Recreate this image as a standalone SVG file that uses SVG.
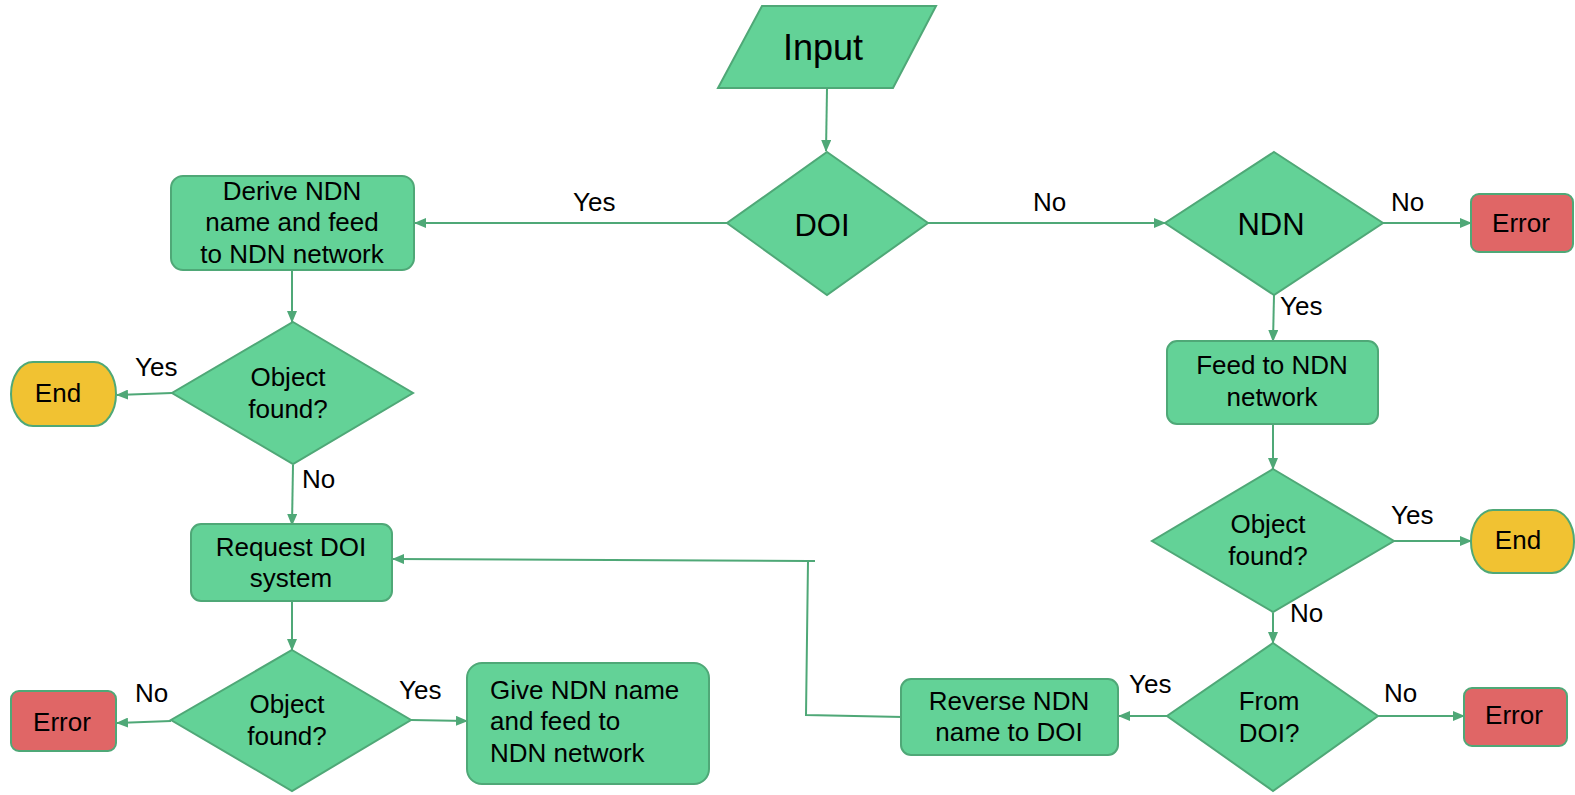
<svg xmlns="http://www.w3.org/2000/svg" width="1575" height="795" viewBox="0 0 1575 795">
<defs>
<style>
.g{fill:#63d297;stroke:#4fa877;stroke-width:2}
.y{fill:#f1c232;stroke:#4fa877;stroke-width:2}
.r{fill:#e06666;stroke:#4fa877;stroke-width:2}
.t{font-family:"Liberation Sans",Arial,sans-serif;font-size:26px;fill:#000;text-anchor:middle}
.tl{font-family:"Liberation Sans",Arial,sans-serif;font-size:26px;fill:#000}
.lb{font-family:"Liberation Sans",Arial,sans-serif;font-size:26px;fill:#000}
.c{fill:none;stroke:#4fa877;stroke-width:2}
.a{marker-end:url(#ah)}
</style>
<marker id="ah" markerUnits="userSpaceOnUse" markerWidth="12" markerHeight="10" viewBox="0 0 12 10" refX="11" refY="5" orient="auto">
<path d="M0,0 L12,5 L0,10 Z" fill="#4fa877"/>
</marker>
</defs>
<rect width="1575" height="795" fill="#fff"/>

<g id="connectors">
<line class="c a" x1="827" y1="89" x2="826" y2="151"/>
<line class="c a" x1="727" y1="223" x2="415" y2="223"/>
<line class="c a" x1="928" y1="223" x2="1165" y2="223"/>
<line class="c a" x1="1383" y1="223" x2="1471" y2="223"/>
<line class="c a" x1="1274" y1="295" x2="1273" y2="341"/>
<line class="c a" x1="1273" y1="425" x2="1273" y2="469"/>
<line class="c a" x1="1394" y1="541" x2="1471" y2="541"/>
<line class="c a" x1="1273" y1="613" x2="1273" y2="643"/>
<line class="c a" x1="1378" y1="716" x2="1464" y2="716"/>
<line class="c a" x1="1167" y1="716" x2="1119" y2="716"/>
<path class="c a" d="M903,717 L806,715 L808,561 L393,559"/>
<line class="c" x1="808" y1="561" x2="815" y2="561"/>
<line class="c a" x1="292" y1="270" x2="292" y2="322"/>
<line class="c a" x1="172" y1="393" x2="117" y2="395"/>
<line class="c a" x1="293" y1="465" x2="292" y2="525"/>
<line class="c a" x1="292" y1="601" x2="292" y2="650"/>
<line class="c a" x1="171" y1="721" x2="117" y2="723"/>
<line class="c a" x1="411" y1="720" x2="467" y2="721"/>
</g>

<g id="labels">
<text class="lb" x="573" y="211">Yes</text>
<text class="lb" x="1033" y="211">No</text>
<text class="lb" x="1391" y="211">No</text>
<text class="lb" x="1280" y="315">Yes</text>
<text class="lb" x="1391" y="524">Yes</text>
<text class="lb" x="1290" y="622">No</text>
<text class="lb" x="1129" y="693">Yes</text>
<text class="lb" x="1384" y="702">No</text>
<text class="lb" x="135" y="376">Yes</text>
<text class="lb" x="302" y="488">No</text>
<text class="lb" x="135" y="702">No</text>
<text class="lb" x="399" y="699">Yes</text>
</g>

<g id="input">
<polygon class="g" points="762,6 936,6 893,88 718,88"/>
<text class="t" x="823" y="60" style="font-size:36px">Input</text>
</g>

<g id="doi">
<polygon class="g" points="827,152 928,223 827,295 727,223"/>
<text class="t" x="822" y="236" style="font-size:31px">DOI</text>
</g>

<g id="ndn">
<polygon class="g" points="1274,152 1383,223 1274,295 1165,223"/>
<text class="t" x="1271" y="235" style="font-size:31px">NDN</text>
</g>

<g id="error-top">
<rect class="r" x="1471" y="194" width="102" height="58" rx="8"/>
<text class="t" x="1521" y="232">Error</text>
</g>

<g id="derive">
<rect class="g" x="171" y="176" width="243" height="94" rx="12"/>
<text class="t" x="292" y="200">Derive NDN</text>
<text class="t" x="292" y="231">name and feed</text>
<text class="t" x="292" y="263">to NDN network</text>
</g>

<g id="found-left">
<polygon class="g" points="293,322 413,393 293,464 172,393"/>
<text class="t" x="288" y="386">Object</text>
<text class="t" x="288" y="418">found?</text>
</g>

<g id="end-left">
<rect class="y" x="11" y="362" width="105" height="64" rx="22" ry="32"/>
<text class="t" x="58" y="402">End</text>
</g>

<g id="request">
<rect class="g" x="191" y="524" width="201" height="77" rx="10"/>
<text class="t" x="291" y="556">Request DOI</text>
<text class="t" x="291" y="587">system</text>
</g>

<g id="found-bottom">
<polygon class="g" points="292,650 411,720 292,791 171,720"/>
<text class="t" x="287" y="713">Object</text>
<text class="t" x="287" y="745">found?</text>
</g>

<g id="error-left">
<rect class="r" x="11" y="691" width="105" height="60" rx="8"/>
<text class="t" x="62" y="731">Error</text>
</g>

<g id="give">
<rect class="g" x="467" y="663" width="242" height="121" rx="15"/>
<text class="tl" x="490" y="699">Give NDN name</text>
<text class="tl" x="490" y="730">and feed to</text>
<text class="tl" x="490" y="762">NDN network</text>
</g>

<g id="feed">
<rect class="g" x="1167" y="341" width="211" height="83" rx="10"/>
<text class="t" x="1272" y="374">Feed to NDN</text>
<text class="t" x="1272" y="406">network</text>
</g>

<g id="found-right">
<polygon class="g" points="1273,469 1394,541 1273,612 1152,541"/>
<text class="t" x="1268" y="533">Object</text>
<text class="t" x="1268" y="565">found?</text>
</g>

<g id="end-right">
<rect class="y" x="1471" y="510" width="103" height="63" rx="22" ry="31"/>
<text class="t" x="1518" y="549">End</text>
</g>

<g id="from-doi">
<polygon class="g" points="1273,643 1378,716 1273,791 1167,716"/>
<text class="t" x="1269" y="710">From</text>
<text class="t" x="1269" y="742">DOI?</text>
</g>

<g id="error-right">
<rect class="r" x="1464" y="688" width="103" height="58" rx="8"/>
<text class="t" x="1514" y="724">Error</text>
</g>

<g id="reverse">
<rect class="g" x="901" y="679" width="217" height="76" rx="10"/>
<text class="t" x="1009" y="710">Reverse NDN</text>
<text class="t" x="1009" y="741">name to DOI</text>
</g>
</svg>
